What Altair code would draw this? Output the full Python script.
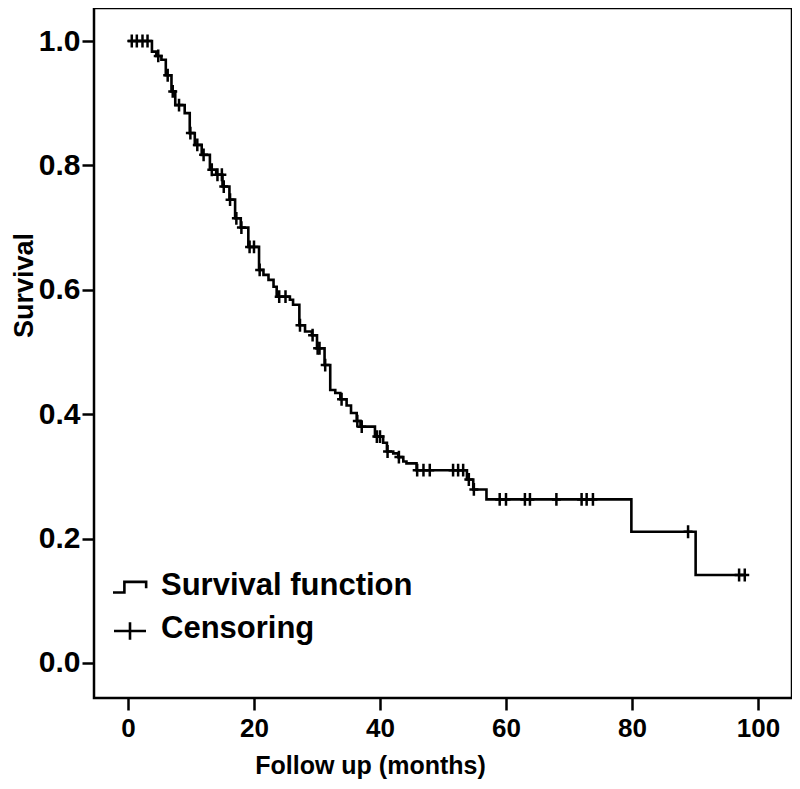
import altair as alt
import pandas as pd
import numpy as np

# Kaplan-Meier step points (time in months, survival after the step)
event_times = [0, 3.8, 4.5, 5.3, 6.0, 6.9, 7.5, 9.0, 9.8, 10.6, 11.7, 13.0, 14.0, 15.0, 16.1,
               17.0, 17.9, 19.1, 20.8, 21.5, 22.3, 23.1, 23.6, 25.7, 26.2, 27.2, 28.1, 29.2,
               30.0, 31.2, 32.1, 32.9, 33.7, 34.7, 35.4, 36.3, 36.9, 39.2, 40.5, 41.1, 42.1,
               42.9, 43.7, 44.2, 45.8, 53.8, 54.8, 56.9, 79.9, 90.1, 98.0]
survival = [1.0, 0.983, 0.976, 0.970, 0.945, 0.919, 0.897, 0.884, 0.852, 0.833, 0.817, 0.793,
            0.785, 0.766, 0.745, 0.715, 0.700, 0.669, 0.632, 0.624, 0.616, 0.605, 0.589, 0.584,
            0.576, 0.543, 0.533, 0.527, 0.506, 0.479, 0.439, 0.434, 0.424, 0.414, 0.402, 0.389,
            0.380, 0.364, 0.354, 0.340, 0.337, 0.331, 0.324, 0.321, 0.310, 0.295, 0.279, 0.263,
            0.211, 0.1415, 0.1415]

# Censoring times (months)
censor_times = [0.6, 1.4, 2.3, 3.1, 4.8, 6.3, 7.1, 8.1, 9.9, 11.0, 12.0, 13.3, 14.2, 14.9, 15.2,
                16.2, 17.2, 18.0, 19.3, 20.0, 20.9, 24.0, 25.0, 27.3, 29.3, 30.1, 30.4, 31.3,
                33.9, 36.4, 37.1, 39.5, 40.0, 41.2, 43.0, 45.9, 46.9, 47.9, 51.6, 52.4, 53.2,
                54.1, 54.9, 59.0, 60.0, 63.0, 63.8, 68.0, 72.0, 72.8, 73.8, 88.9, 97.0, 97.9]

x_ticks = [0, 20, 40, 60, 80, 100]
y_ticks = [0.0, 0.2, 0.4, 0.6, 0.8, 1.0]
legend_labels = ["Survival function", "Censoring"]

km = pd.DataFrame({"t": event_times, "s": survival})
et = np.array(event_times)
sv = np.array(survival)
cens_s = [float(sv[np.searchsorted(et, t, side="right") - 1]) for t in censor_times]
cens = pd.DataFrame({"t": censor_times, "s": cens_s})

W, H = 698, 690
xscale = alt.Scale(domain=[-5.397, 105.397], nice=False, zero=False)
yscale = alt.Scale(domain=[-0.0563, 1.0531], nice=False, zero=False)

xaxis = alt.Axis(values=x_ticks, title="Follow up (months)", grid=False, domain=False,
                 tickSize=12, tickWidth=2.5, tickColor="black", labelFontSize=26,
                 labelFontWeight="bold", labelColor="black", labelPadding=5,
                 titleFontSize=25, titleFontWeight="bold", titleColor="black",
                 titleX=276, titleY=75, titleBaseline="alphabetic", titleAlign="center")
yaxis = alt.Axis(values=y_ticks, format=".1f", title="Survival", grid=False, domain=False,
                 tickSize=12, tickWidth=2.5, tickColor="black", labelFontSize=30,
                 labelFontWeight="bold", labelColor="black", labelPadding=2,
                 titleFontSize=27, titleFontWeight="bold", titleColor="black",
                 titleX=-62, titleY=277, titleAngle=-90, titleBaseline="alphabetic",
                 titleAlign="center")

line = alt.Chart(km).mark_line(interpolate="step-after", color="black", strokeWidth=2.6).encode(
    x=alt.X("t:Q", scale=xscale, axis=xaxis),
    y=alt.Y("s:Q", scale=yscale, axis=yaxis),
)

cross = "M-0.7,0L0.7,0M0,-1L0,1"
points = alt.Chart(cens).mark_point(shape=cross, size=164, filled=False, color="black",
                                    strokeWidth=2.5, opacity=1).encode(
    x=alt.X("t:Q", scale=xscale),
    y=alt.Y("s:Q", scale=yscale),
)

one = pd.DataFrame({"a": [0]})
leg_step = alt.Chart(one).mark_point(
    shape="M-1,0.32L-0.33,0.32L-0.33,-0.3L0.95,-0.3L0.95,0.08",
    size=1156, filled=False, color="black", strokeWidth=2.6, opacity=1
).encode(x=alt.value(36), y=alt.value(579))
leg_cross = alt.Chart(one).mark_point(
    shape="M-1,0L1,0M0,-0.55L0,0.55",
    size=1024, filled=False, color="black", strokeWidth=2.6, opacity=1
).encode(x=alt.value(36), y=alt.value(623))

leg_text = alt.Chart(pd.DataFrame({"label": legend_labels, "yy": [587, 630]})).mark_text(
    align="left", baseline="alphabetic", fontSize=31, fontWeight="bold", color="black",
    font="Liberation Sans"
).encode(x=alt.value(67), y=alt.Y("yy:Q", scale=None, axis=None), text="label:N")

chart = alt.layer(line, points, leg_step, leg_cross, leg_text).properties(
    width=W, height=H,
    autosize=alt.AutoSizeParams(type="none"),
    padding={"left": 86, "top": 0, "right": 0, "bottom": 90},
).configure(
    font="Liberation Sans",
    view=alt.ViewConfig(stroke="black", strokeWidth=2.5),
    axis=alt.AxisConfig(labelFont="Liberation Sans", titleFont="Liberation Sans"),
)

chart.save("out.html", embed_options={"renderer": "svg", "actions": False})
